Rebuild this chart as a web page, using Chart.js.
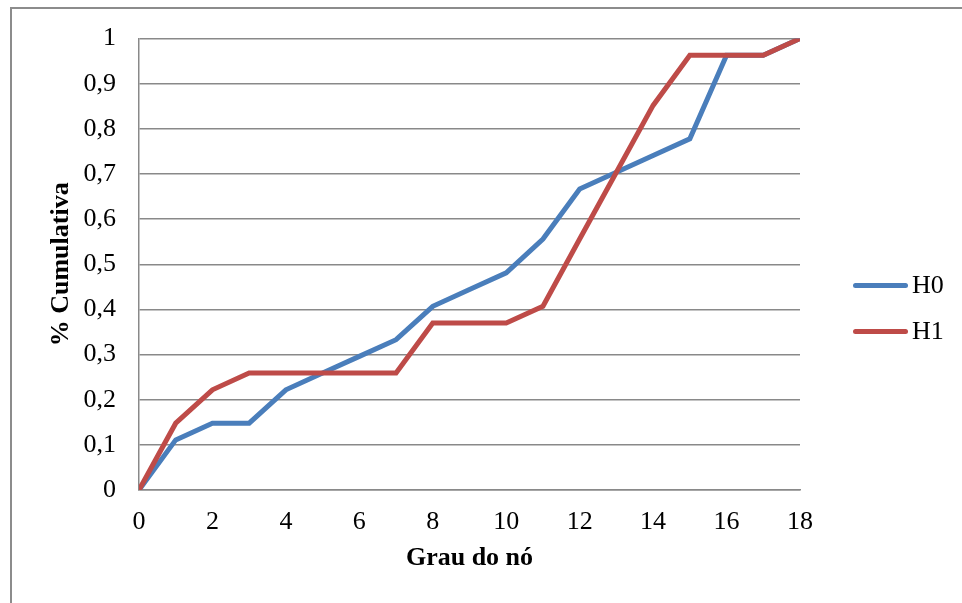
<!DOCTYPE html>
<html>
<head>
<meta charset="utf-8">
<script src="https://cdn.jsdelivr.net/npm/chart.js@4/dist/chart.umd.min.js"></script>
<style>
  html, body { margin: 0; padding: 0; background: #fff; }
  #wrap { position: relative; width: 962px; height: 603px; overflow: hidden; background: #fff; }
  #frame { position: absolute; left: 10px; top: 7px; width: 1000px; height: 700px;
           border-left: 2px solid #8c8c8c; border-top: 2px solid #8c8c8c; }
  #chart { position: absolute; left: 0; top: 0; }
  #legend { position: absolute; left: 853px; top: 262px; font-family: "Liberation Serif", serif;
            font-size: 26px; color: #000; }
  .item { display: flex; align-items: center; height: 46px; }
  .swatch { width: 55px; height: 5px; border-radius: 3px; margin-right: 4px; }
</style>
</head>
<body>
<div id="wrap">
  <div id="frame"></div>
  <canvas id="chart" width="962" height="603"></canvas>
  <div id="legend"></div>
</div>
<script>
// Node degree (x) and cumulative share of nodes for each hypothesis
const degrees = [0, 1, 2, 3, 4, 5, 6, 7, 8, 9, 10, 11, 12, 13, 14, 15, 16, 17, 18];
const h0 = [0, 0.111, 0.148, 0.148, 0.222, 0.259, 0.296, 0.333, 0.407, 0.444,
            0.481, 0.556, 0.667, 0.704, 0.741, 0.778, 0.963, 0.963, 1];
const h1 = [0, 0.148, 0.222, 0.259, 0.259, 0.259, 0.259, 0.259, 0.370, 0.370,
            0.370, 0.407, 0.556, 0.704, 0.852, 0.963, 0.963, 0.963, 1];
const seriesNames = ['H0', 'H1'];
const seriesColors = ['#4A7EBB', '#BE4B48'];
const yTickLabels = ['0', '0,1', '0,2', '0,3', '0,4', '0,5', '0,6', '0,7', '0,8', '0,9', '1'];
const xTitle = 'Grau do nó';
const yTitle = '% Cumulativa';

const serif = 'Liberation Serif';
const gridGray = '#898989';

// Later series is painted over earlier ones (lower order = drawn last)
const datasets = [h0, h1].map((vals, i) => ({
  label: seriesNames[i],
  data: degrees.map((x, j) => ({ x: x, y: vals[j] })),
  borderColor: seriesColors[i],
  backgroundColor: seriesColors[i],
  borderWidth: 5,
  pointRadius: 0,
  tension: 0,
  fill: false,
  order: 1 - i
}));

new Chart(document.getElementById('chart'), {
  type: 'line',
  data: { datasets: datasets },
  options: {
    responsive: false,
    animation: false,
    layout: { padding: { left: 0, top: 38, right: 162, bottom: 0 } },
    plugins: { legend: { display: false }, tooltip: { enabled: false } },
    scales: {
      x: {
        type: 'linear', min: 0, max: 18,
        ticks: { stepSize: 2, color: '#000', padding: 17,
                 font: { family: serif, size: 26 } },
        grid: { display: false, drawTicks: false },
        border: { display: true, color: gridGray, width: 1.5 },
        title: { display: true, text: xTitle, color: '#000',
                 font: { family: serif, size: 26, weight: 'bold' },
                 padding: { top: 0, bottom: 29 } },
        afterFit(scale) { scale.height = 113; }
      },
      y: {
        min: 0, max: 1,
        ticks: { stepSize: 0.1, color: '#000', padding: 23,
                 font: { family: serif, size: 26 },
                 callback: (v, i) => yTickLabels[i] },
        grid: { color: gridGray, lineWidth: 1.5, drawTicks: false },
        border: { display: true, color: gridGray, width: 1.5 },
        title: { display: true, text: yTitle, color: '#000',
                 font: { family: serif, size: 26, weight: 'bold' },
                 padding: { top: 46, bottom: 0 } },
        afterFit(scale) { scale.width = 139; }
      }
    }
  }
});

// Legend to the right of the plot
const legend = document.getElementById('legend');
seriesNames.forEach((name, i) => {
  const item = document.createElement('div');
  item.className = 'item';
  const sw = document.createElement('span');
  sw.className = 'swatch';
  sw.style.background = seriesColors[i];
  const txt = document.createElement('span');
  txt.textContent = name;
  item.appendChild(sw);
  item.appendChild(txt);
  legend.appendChild(item);
});
</script>
</body>
</html>
